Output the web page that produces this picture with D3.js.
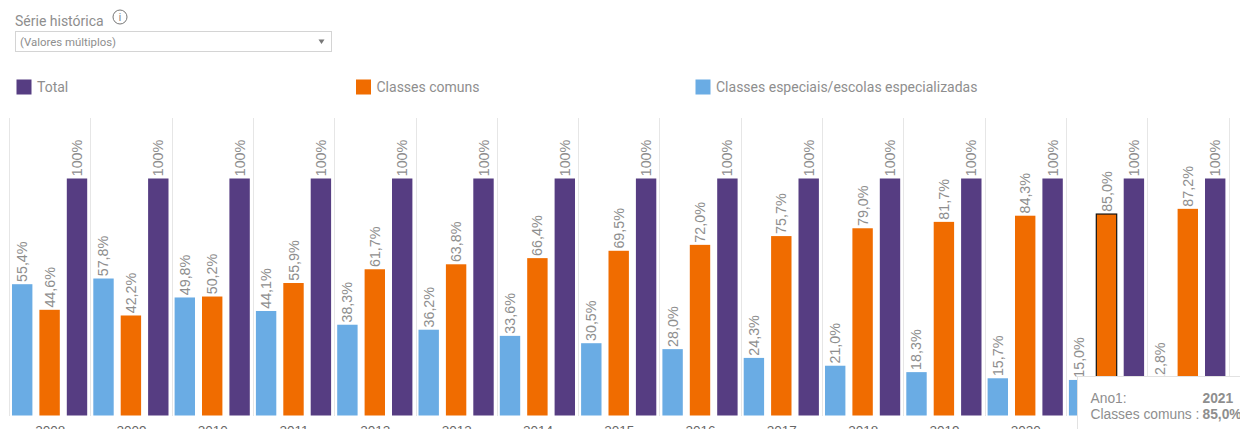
<!DOCTYPE html>
<html lang="pt-BR">
<head>
<meta charset="utf-8">
<style>
  html, body { margin: 0; padding: 0; background: #fff; overflow: hidden; }
  svg { display: block; font-family: Roboto, Arial, sans-serif; }
</style>
<script src="https://cdn.jsdelivr.net/npm/d3@7"></script>
</head>
<body>
<svg id="chart" width="1240" height="429"></svg>
<script>
const anos = [2008, 2009, 2010, 2011, 2012, 2013, 2014, 2015, 2016, 2017, 2018, 2019, 2020, 2021, 2022];
const especiais = [55.4, 57.8, 49.8, 44.1, 38.3, 36.2, 33.6, 30.5, 28.0, 24.3, 21.0, 18.3, 15.7, 15.0, 12.8];
const comuns = [44.6, 42.2, 50.2, 55.9, 61.7, 63.8, 66.4, 69.5, 72.0, 75.7, 79.0, 81.7, 84.3, 85.0, 87.2];
const total = [100, 100, 100, 100, 100, 100, 100, 100, 100, 100, 100, 100, 100, 100, 100];

const nomes = ["Classes especiais/escolas especializadas", "Classes comuns", "Total"];
const cores = ["#6aace4", "#f06c00", "#563d82"];
const series = [especiais, comuns, total];

const svg = d3.select("#chart");
const cinza = "#8e8e8e";
const fonteRotulo = "'Liberation Sans', Arial, sans-serif";

// Painéis por ano e barras dentro de cada painel
const x0 = d3.scaleBand().domain(anos).range([9.5, 9.5 + 81.3 * anos.length]).padding(0);
const x1 = d3.scaleBand().domain(nomes).range([2.5, 77.7]).paddingInner(0.2555).paddingOuter(0);
const y = d3.scaleLinear().domain([0, 100]).range([415.5, 178.5]);

// Linhas verticais entre os anos
svg.append("g").selectAll("line").data(anos).join("line")
  .attr("x1", d => Math.floor(x0(d)) + 0.5).attr("x2", d => Math.floor(x0(d)) + 0.5)
  .attr("y1", 118).attr("y2", 416)
  .attr("stroke", "#e6e6e6").attr("stroke-width", 1);
svg.append("line")
  .attr("x1", Math.floor(x0.range()[1]) + 0.5).attr("x2", Math.floor(x0.range()[1]) + 0.5)
  .attr("y1", 118).attr("y2", 416)
  .attr("stroke", "#e6e6e6");

const grupos = svg.append("g").selectAll("g").data(anos).join("g")
  .attr("transform", d => `translate(${x0(d)},0)`);

const fmt = v => v === 100 ? "100%" : d3.format(".1f")(v).replace(".", ",") + "%";

nomes.forEach((nome, s) => {
  grupos.append("rect")
    .attr("x", x1(nome))
    .attr("width", x1.bandwidth())
    .attr("y", (d, i) => y(series[s][i]))
    .attr("height", (d, i) => y(0) - y(series[s][i]))
    .attr("fill", cores[s]);

  grupos.append("text")
    .attr("transform", (d, i) => `translate(${x1(nome) + x1.bandwidth() / 2 + 5},${y(series[s][i]) - 2.2}) rotate(-90)`)
    .attr("font-size", 14.3)
    .attr("font-family", fonteRotulo)
    .attr("fill", cinza)
    .text((d, i) => fmt(series[s][i]));
});

// Ano selecionado: contorno da barra de classes comuns
const iSel = anos.indexOf(2021);
svg.append("rect")
  .attr("x", x0(2021) + x1(nomes[1]))
  .attr("y", y(comuns[iSel]))
  .attr("width", x1.bandwidth())
  .attr("height", y(0) - y(comuns[iSel]))
  .attr("fill", "none")
  .attr("stroke", "#111")
  .attr("stroke-width", 1.2);

// Eixo de anos
const eixo = svg.append("g")
  .attr("transform", "translate(0,416)")
  .call(d3.axisBottom(x0).tickSize(0).tickPadding(9).tickFormat(d3.format("d")));
eixo.select(".domain").remove();
eixo.selectAll("text").attr("font-size", 13.5).attr("fill", "#666").attr("font-family", fonteRotulo);

// Filtro de série histórica
svg.append("text").attr("x", 15).attr("y", 26).attr("font-size", 14).attr("fill", cinza).text("Série histórica");
svg.append("circle").attr("cx", 120).attr("cy", 17).attr("r", 7).attr("fill", "none").attr("stroke", "#777").attr("stroke-width", 1);
svg.append("text").attr("x", 120).attr("y", 20.5).attr("text-anchor", "middle").attr("font-size", 10).attr("fill", "#777").text("i");
svg.append("rect").attr("x", 15.5).attr("y", 31.5).attr("width", 316).attr("height", 20).attr("fill", "#fff").attr("stroke", "#d4d4d4");
svg.append("text").attr("x", 20).attr("y", 46).attr("font-size", 11.4).attr("fill", cinza).text("(Valores múltiplos)");
svg.append("path").attr("d", d3.line()([[318.5, 39.5], [324.5, 39.5], [321.5, 44]])).attr("fill", "#777");

// Legenda
const legX = { "Total": 16.5, "Classes comuns": 356, "Classes especiais/escolas especializadas": 695.5 };
["Total", "Classes comuns", "Classes especiais/escolas especializadas"].forEach(nome => {
  const cor = cores[nomes.indexOf(nome)];
  svg.append("rect").attr("x", legX[nome]).attr("y", 79.5).attr("width", 15).attr("height", 15).attr("fill", cor);
  svg.append("text").attr("x", legX[nome] + 20.5).attr("y", 92).attr("font-size", 14).attr("fill", cinza).text(nome);
});

// Dica do ano selecionado
const dica = svg.append("g");
dica.append("rect").attr("x", 1077.5).attr("y", 376.5).attr("width", 170).attr("height", 60)
  .attr("fill", "#fff").attr("stroke", "#e2e2e2");
const fonteDica = 13.8;
dica.append("text").attr("x", 1090.5).attr("y", 402.5).attr("font-size", fonteDica).attr("font-family", fonteRotulo).attr("fill", cinza).text("Ano1:");
dica.append("text").attr("x", 1202.5).attr("y", 402.5).attr("font-size", fonteDica).attr("font-family", fonteRotulo).attr("font-weight", 700).attr("fill", cinza).text(anos[iSel]);
dica.append("text").attr("x", 1090.5).attr("y", 418.5).attr("font-size", fonteDica).attr("font-family", fonteRotulo).attr("fill", cinza).text("Classes comuns :");
dica.append("text").attr("x", 1202.5).attr("y", 418.5).attr("font-size", fonteDica).attr("font-family", fonteRotulo).attr("font-weight", 700).attr("fill", cinza).text(fmt(comuns[iSel]));
</script>
</body>
</html>
